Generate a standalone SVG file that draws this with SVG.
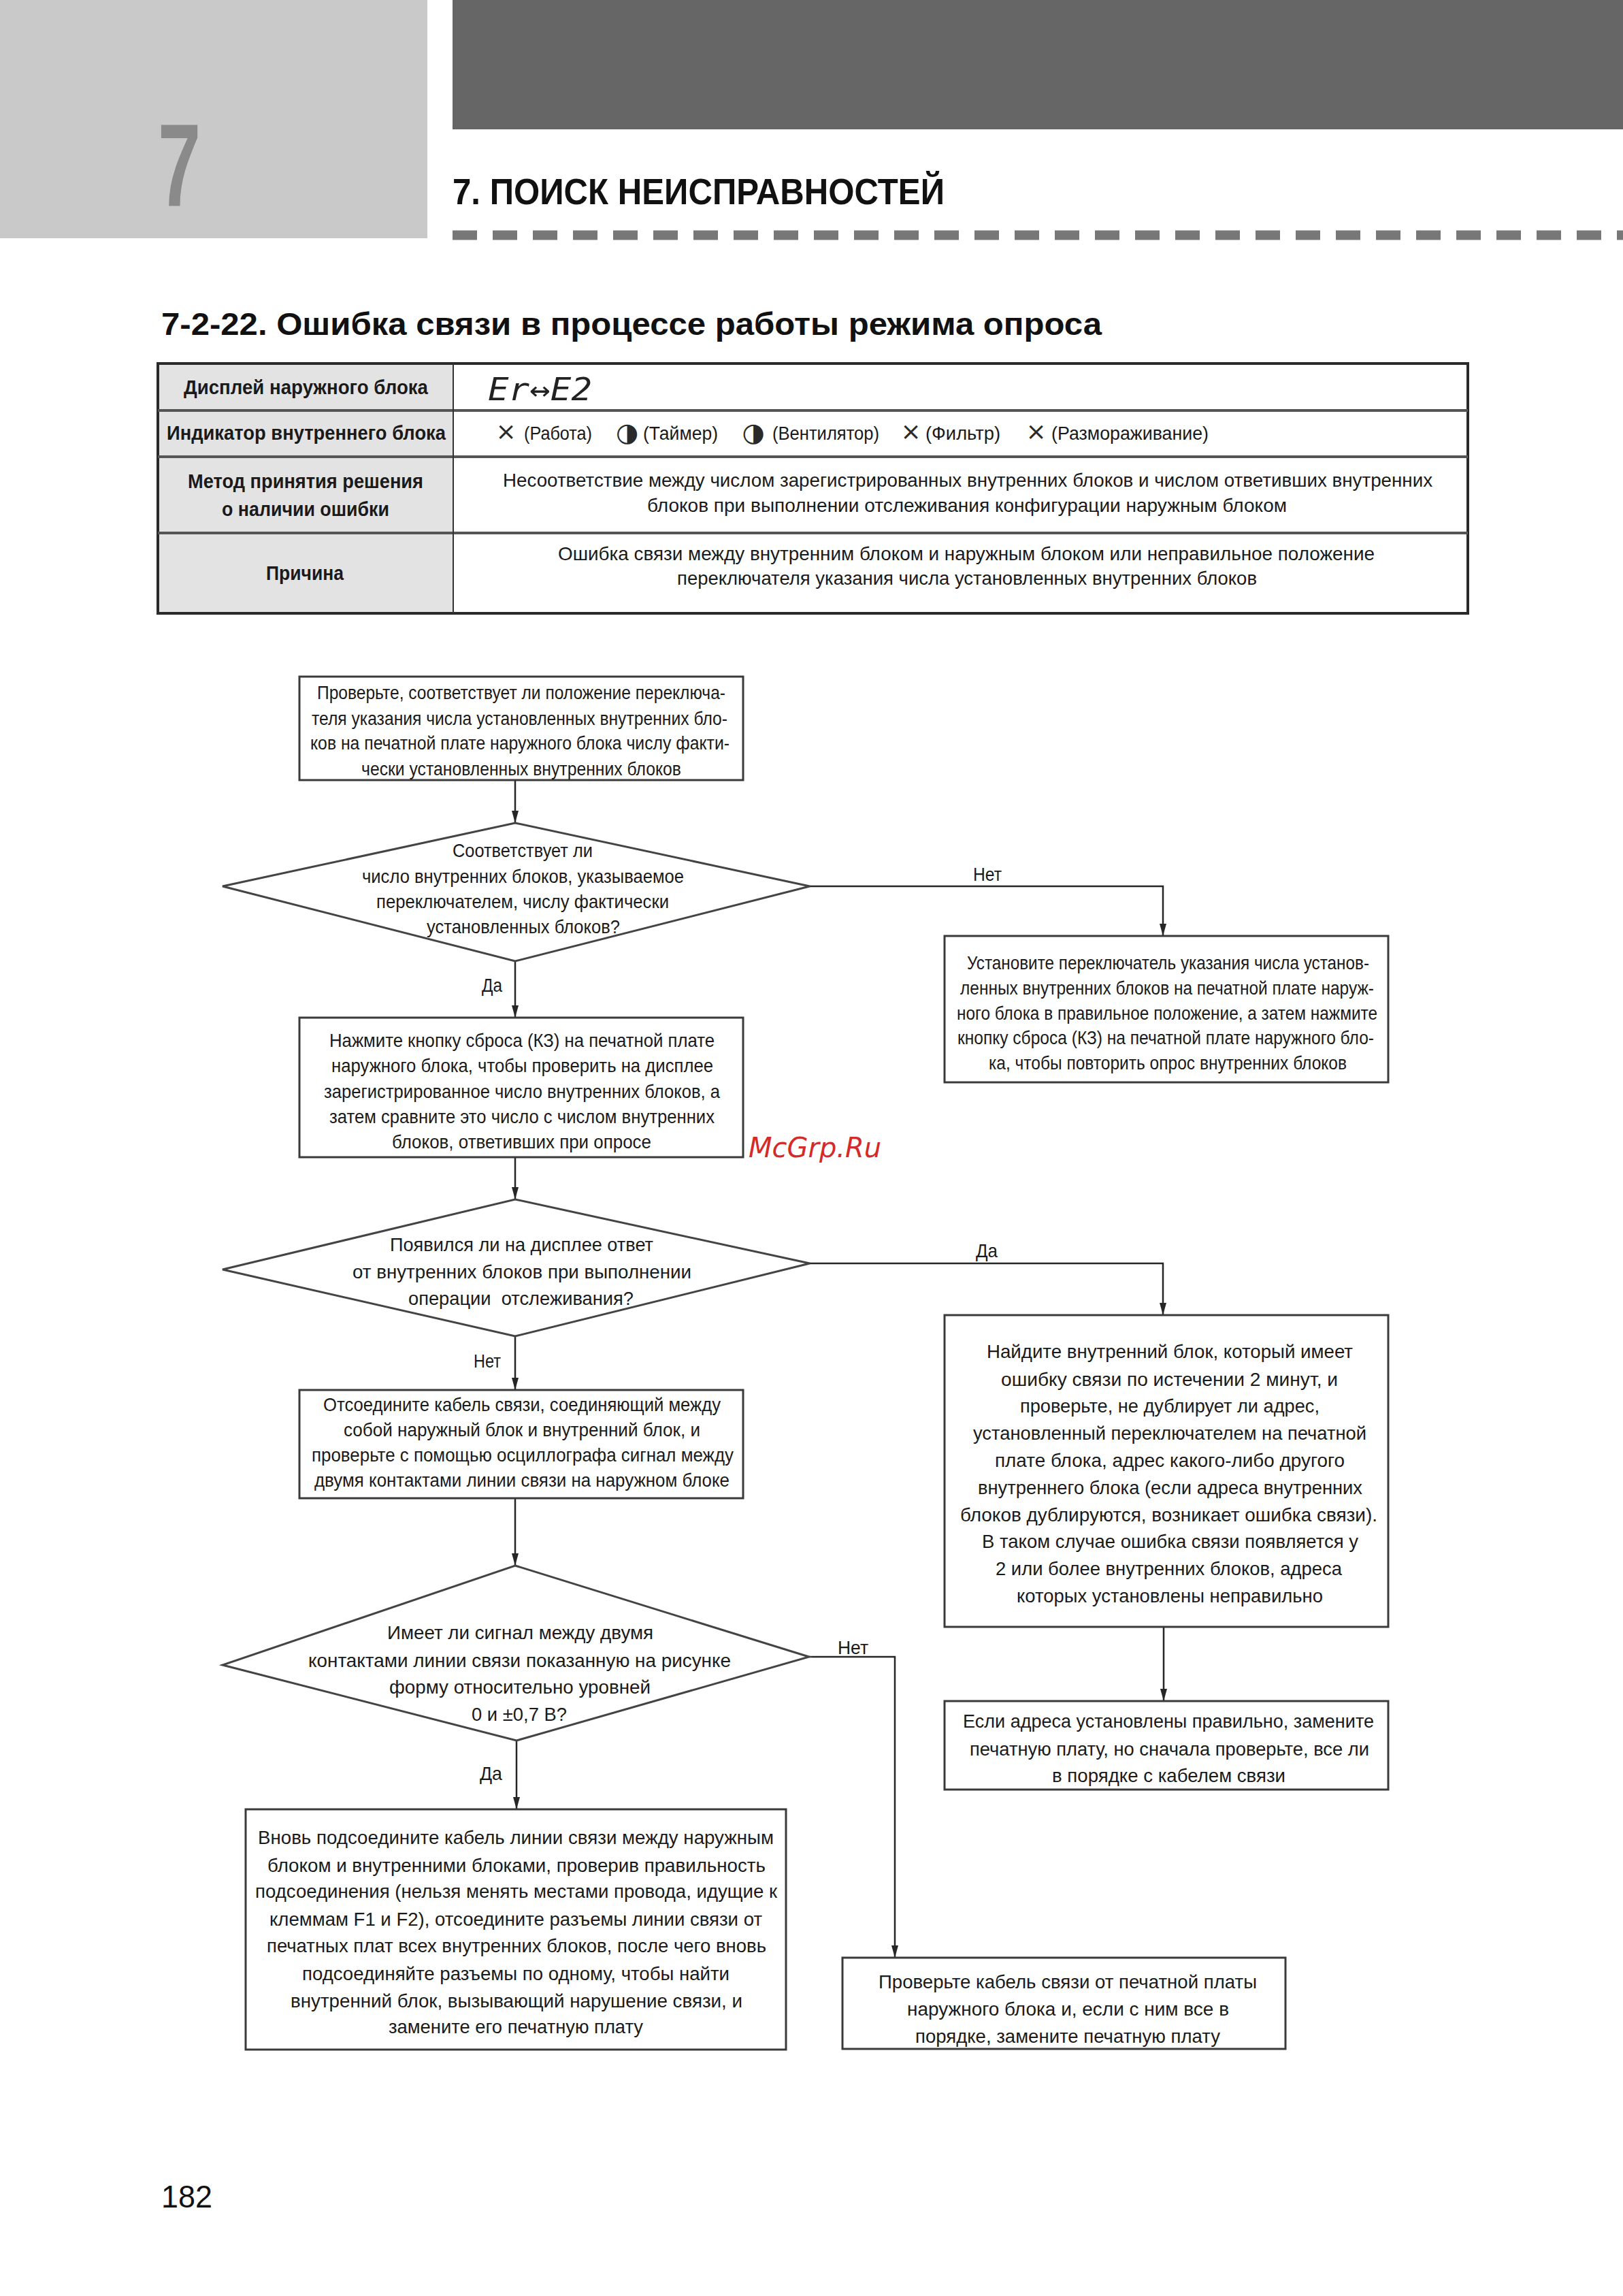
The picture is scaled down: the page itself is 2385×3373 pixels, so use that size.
<svg xmlns="http://www.w3.org/2000/svg" width="2385" height="3373" viewBox="0 0 2385 3373">
<style>
.t{font-family:"Liberation Sans",Arial,sans-serif;font-size:28px;fill:#1a1a1a;text-anchor:middle}
.s{text-anchor:start}
.b{font-weight:bold;font-size:29px}
.box{fill:#fff;stroke:#3a3a3a;stroke-width:3}
.dia{fill:#fff;stroke:#444;stroke-width:3}
.ln{fill:none;stroke:#262626;stroke-width:2.5}
.sym{font-family:"DejaVu Sans",sans-serif;fill:#2a2a2a;text-anchor:middle}
</style>
<defs>
<marker id="ah" markerUnits="userSpaceOnUse" markerWidth="18" markerHeight="10" refX="18" refY="5" orient="auto">
<path d="M0,0 L18,5 L0,10 z" fill="#262626"/>
</marker>
</defs>
<rect width="2385" height="3373" fill="#fff"/>
<g id="header">
<rect x="0" y="0" width="628" height="350" fill="#c9c9c9"/>
<rect x="665" y="0" width="1720" height="190" fill="#666"/>
<text transform="translate(232,302) scale(0.66,1)" x="0" y="0" style="font-family:'Liberation Sans',Arial,sans-serif;font-weight:bold;font-size:172px;fill:#8a8a8a">7</text>
<text class="t s b" x="665" y="300" style="font-size:54px;fill:#111" textLength="723" lengthAdjust="spacingAndGlyphs">7. ПОИСК НЕИСПРАВНОСТЕЙ</text>
<line x1="665" y1="345.5" x2="2385" y2="345.5" stroke="#777" stroke-width="14" stroke-dasharray="36 23"/>
<text class="t s b" x="237" y="492" style="font-size:46px;fill:#111" textLength="1382" lengthAdjust="spacingAndGlyphs">7-2-22. Ошибка связи в процессе работы режима опроса</text>
</g>
<g id="table">
<rect x="232" y="534" width="434" height="367" fill="#e3e3e3"/>
<rect x="232" y="534" width="1925" height="367" fill="none" stroke="#2a2a2a" stroke-width="4"/>
<line x1="232" y1="603" x2="2157" y2="603" stroke="#555" stroke-width="4"/>
<line x1="232" y1="671" x2="2157" y2="671" stroke="#555" stroke-width="4"/>
<line x1="232" y1="783" x2="2157" y2="783" stroke="#555" stroke-width="4"/>
<line x1="666" y1="534" x2="666" y2="901" stroke="#333" stroke-width="2"/>
<text class="t b" x="449.5" y="579" textLength="359" lengthAdjust="spacingAndGlyphs">Дисплей наружного блока</text>
<text class="s" x="717" y="588" style="font-family:'DejaVu Sans Mono',monospace;font-style:italic;font-size:46px;fill:#222" textLength="153" lengthAdjust="spacingAndGlyphs">Er↔E2</text>
<text class="t b" x="450" y="646" textLength="410" lengthAdjust="spacingAndGlyphs">Индикатор внутреннего блока</text>
<text class="sym" x="743.5" y="646" style="font-size:36px">×</text>
<text class="t s" x="770" y="646" textLength="100" lengthAdjust="spacingAndGlyphs">(Работа)</text>
<text class="sym" x="921.5" y="648" style="font-size:38px">◑</text>
<text class="t s" x="945" y="646" textLength="110" lengthAdjust="spacingAndGlyphs">(Таймер)</text>
<text class="sym" x="1107" y="648" style="font-size:38px">◑</text>
<text class="t s" x="1135" y="646" textLength="157" lengthAdjust="spacingAndGlyphs">(Вентилятор)</text>
<text class="sym" x="1338.5" y="646" style="font-size:36px">×</text>
<text class="t s" x="1360" y="646" textLength="110" lengthAdjust="spacingAndGlyphs">(Фильтр)</text>
<text class="sym" x="1522.5" y="646" style="font-size:36px">×</text>
<text class="t s" x="1545" y="646" textLength="231" lengthAdjust="spacingAndGlyphs">(Размораживание)</text>
<text class="t b" x="449" y="717" textLength="346" lengthAdjust="spacingAndGlyphs">Метод принятия решения</text>
<text class="t b" x="449" y="758" textLength="246" lengthAdjust="spacingAndGlyphs">о наличии ошибки</text>
<text class="t" x="1422" y="715" textLength="1366" lengthAdjust="spacingAndGlyphs">Несоответствие между числом зарегистрированных внутренних блоков и числом ответивших внутренних</text>
<text class="t" x="1421" y="752" textLength="940" lengthAdjust="spacingAndGlyphs">блоков при выполнении отслеживания конфигурации наружным блоком</text>
<text class="t b" x="448" y="852" textLength="114" lengthAdjust="spacingAndGlyphs">Причина</text>
<text class="t" x="1420" y="823" textLength="1200" lengthAdjust="spacingAndGlyphs">Ошибка связи между внутренним блоком и наружным блоком или неправильное положение</text>
<text class="t" x="1421" y="859" textLength="852" lengthAdjust="spacingAndGlyphs">переключателя указания числа установленных внутренних блоков</text>
</g>
<g id="connectors">
<line class="ln" x1="757" y1="1146" x2="757" y2="1209" marker-end="url(#ah)"/>
<polyline class="ln" points="1190,1302 1709,1302 1709,1375" marker-end="url(#ah)"/>
<line class="ln" x1="757" y1="1412" x2="757" y2="1495" marker-end="url(#ah)"/>
<line class="ln" x1="757" y1="1700" x2="757" y2="1762" marker-end="url(#ah)"/>
<polyline class="ln" points="1190,1856 1709,1856 1709,1932" marker-end="url(#ah)"/>
<line class="ln" x1="757" y1="1963" x2="757" y2="2042" marker-end="url(#ah)"/>
<line class="ln" x1="757" y1="2201" x2="757" y2="2300" marker-end="url(#ah)"/>
<polyline class="ln" points="1189,2434 1315,2434 1315,2876" marker-end="url(#ah)"/>
<line class="ln" x1="759" y1="2557" x2="759" y2="2658" marker-end="url(#ah)"/>
<line class="ln" x1="1710" y1="2390" x2="1710" y2="2499" marker-end="url(#ah)"/>
<text class="t s" x="1430" y="1294" textLength="42" lengthAdjust="spacingAndGlyphs">Нет</text>
<text class="t s" x="708" y="1457" textLength="30" lengthAdjust="spacingAndGlyphs">Да</text>
<text class="t s" x="1434" y="1847" textLength="32" lengthAdjust="spacingAndGlyphs">Да</text>
<text class="t s" x="696" y="2009" textLength="40" lengthAdjust="spacingAndGlyphs">Нет</text>
<text class="t s" x="1231" y="2430" textLength="45" lengthAdjust="spacingAndGlyphs">Нет</text>
<text class="t s" x="705" y="2615" textLength="33" lengthAdjust="spacingAndGlyphs">Да</text>
</g>
<g id="n_check_switch">
<rect class="box" x="440" y="994" width="652" height="152"/>
<text class="t" x="766" y="1027" textLength="600" lengthAdjust="spacingAndGlyphs">Проверьте, соответствует ли положение переключа-</text>
<text class="t" x="763.5" y="1065" textLength="611" lengthAdjust="spacingAndGlyphs">теля указания числа установленных внутренних бло-</text>
<text class="t" x="764" y="1101" textLength="616" lengthAdjust="spacingAndGlyphs">ков на печатной плате наружного блока числу факти-</text>
<text class="t" x="766" y="1139" textLength="470" lengthAdjust="spacingAndGlyphs">чески установленных внутренних блоков</text>
</g>
<g id="d_match">
<polygon class="dia" points="757,1209 1190,1302 757,1412 327,1302"/>
<text class="t" x="768" y="1259" textLength="206" lengthAdjust="spacingAndGlyphs">Соответствует ли</text>
<text class="t" x="768.5" y="1297" textLength="473" lengthAdjust="spacingAndGlyphs">число внутренних блоков, указываемое</text>
<text class="t" x="768" y="1334" textLength="430" lengthAdjust="spacingAndGlyphs">переключателем, числу фактически</text>
<text class="t" x="769" y="1371" textLength="284" lengthAdjust="spacingAndGlyphs">установленных блоков?</text>
</g>
<g id="n_set_switch">
<rect class="box" x="1388" y="1375" width="652" height="215"/>
<text class="t" x="1716.5" y="1424" textLength="591" lengthAdjust="spacingAndGlyphs">Установите переключатель указания числа установ-</text>
<text class="t" x="1715" y="1461" textLength="608" lengthAdjust="spacingAndGlyphs">ленных внутренних блоков на печатной плате наруж-</text>
<text class="t" x="1715" y="1498" textLength="618" lengthAdjust="spacingAndGlyphs">ного блока в правильное положение, а затем нажмите</text>
<text class="t" x="1713" y="1534" textLength="612" lengthAdjust="spacingAndGlyphs">кнопку сброса (КЗ) на печатной плате наружного бло-</text>
<text class="t" x="1716" y="1571" textLength="526" lengthAdjust="spacingAndGlyphs">ка, чтобы повторить опрос внутренних блоков</text>
</g>
<g id="n_reset">
<rect class="box" x="440" y="1495" width="652" height="205"/>
<text class="t" x="767" y="1538" textLength="566" lengthAdjust="spacingAndGlyphs">Нажмите кнопку сброса (КЗ) на печатной плате</text>
<text class="t" x="767.5" y="1575" textLength="561" lengthAdjust="spacingAndGlyphs">наружного блока, чтобы проверить на дисплее</text>
<text class="t" x="767" y="1613" textLength="582" lengthAdjust="spacingAndGlyphs">зарегистрированное число внутренних блоков, а</text>
<text class="t" x="767" y="1650" textLength="566" lengthAdjust="spacingAndGlyphs">затем сравните это число с числом внутренних</text>
<text class="t" x="766.5" y="1687" textLength="381" lengthAdjust="spacingAndGlyphs">блоков, ответивших при опросе</text>
</g>
<g id="watermark">
<text x="1100" y="1700" style="font-family:'DejaVu Sans',sans-serif;font-style:oblique;font-size:40px;fill:#d42a2a">McGrp.Ru</text>
</g>
<g id="d_response">
<polygon class="dia" points="757,1762 1190,1856 757,1963 327,1865"/>
<text class="t" x="766.5" y="1838" textLength="387" lengthAdjust="spacingAndGlyphs">Появился ли на дисплее ответ</text>
<text class="t" x="767" y="1878" textLength="498" lengthAdjust="spacingAndGlyphs">от внутренних блоков при выполнении</text>
<text class="t" x="765.5" y="1917" textLength="331" lengthAdjust="spacingAndGlyphs" xml:space="preserve">операции  отслеживания?</text>
</g>
<g id="n_find_unit">
<rect class="box" x="1388" y="1932" width="652" height="458"/>
<text class="t" x="1719" y="1995" textLength="538" lengthAdjust="spacingAndGlyphs">Найдите внутренний блок, который имеет</text>
<text class="t" x="1718.5" y="2036" textLength="495" lengthAdjust="spacingAndGlyphs">ошибку связи по истечении 2 минут, и</text>
<text class="t" x="1719" y="2075" textLength="440" lengthAdjust="spacingAndGlyphs">проверьте, не дублирует ли адрес,</text>
<text class="t" x="1719" y="2115" textLength="578" lengthAdjust="spacingAndGlyphs">установленный переключателем на печатной</text>
<text class="t" x="1719" y="2155" textLength="514" lengthAdjust="spacingAndGlyphs">плате блока, адрес какого-либо другого</text>
<text class="t" x="1719.5" y="2195" textLength="565" lengthAdjust="spacingAndGlyphs">внутреннего блока (если адреса внутренних</text>
<text class="t" x="1717.5" y="2235" textLength="613" lengthAdjust="spacingAndGlyphs">блоков дублируются, возникает ошибка связи).</text>
<text class="t" x="1719.5" y="2274" textLength="553" lengthAdjust="spacingAndGlyphs">В таком случае ошибка связи появляется у</text>
<text class="t" x="1717.5" y="2314" textLength="509" lengthAdjust="spacingAndGlyphs">2 или более внутренних блоков, адреса</text>
<text class="t" x="1719" y="2354" textLength="450" lengthAdjust="spacingAndGlyphs">которых установлены неправильно</text>
</g>
<g id="n_replace_pcb1">
<rect class="box" x="1388" y="2499" width="652" height="130"/>
<text class="t" x="1717" y="2538" textLength="604" lengthAdjust="spacingAndGlyphs">Если адреса установлены правильно, замените</text>
<text class="t" x="1718.5" y="2579" textLength="587" lengthAdjust="spacingAndGlyphs">печатную плату, но сначала проверьте, все ли</text>
<text class="t" x="1717.5" y="2618" textLength="343" lengthAdjust="spacingAndGlyphs">в порядке с кабелем связи</text>
</g>
<g id="n_disconnect">
<rect class="box" x="440" y="2042" width="652" height="159"/>
<text class="t" x="767" y="2073" textLength="584" lengthAdjust="spacingAndGlyphs">Отсоедините кабель связи, соединяющий между</text>
<text class="t" x="767" y="2110" textLength="524" lengthAdjust="spacingAndGlyphs">собой наружный блок и внутренний блок, и</text>
<text class="t" x="768" y="2147" textLength="620" lengthAdjust="spacingAndGlyphs">проверьте с помощью осциллографа сигнал между</text>
<text class="t" x="767" y="2184" textLength="610" lengthAdjust="spacingAndGlyphs">двумя контактами линии связи на наружном блоке</text>
</g>
<g id="d_signal">
<polygon class="dia" points="757,2300 1189,2434 759,2557 327,2446"/>
<text class="t" x="764.5" y="2408" textLength="391" lengthAdjust="spacingAndGlyphs">Имеет ли сигнал между двумя</text>
<text class="t" x="763.5" y="2449" textLength="621" lengthAdjust="spacingAndGlyphs">контактами линии связи показанную на рисунке</text>
<text class="t" x="764" y="2488" textLength="384" lengthAdjust="spacingAndGlyphs">форму относительно уровней</text>
<text class="t" x="763" y="2528" textLength="140" lengthAdjust="spacingAndGlyphs">0 и ±0,7 В?</text>
</g>
<g id="n_reconnect">
<rect class="box" x="361" y="2658" width="794" height="353"/>
<text class="t" x="758" y="2709" textLength="758" lengthAdjust="spacingAndGlyphs">Вновь подсоедините кабель линии связи между наружным</text>
<text class="t" x="759" y="2750" textLength="732" lengthAdjust="spacingAndGlyphs">блоком и внутренними блоками, проверив правильность</text>
<text class="t" x="758.5" y="2788" textLength="767" lengthAdjust="spacingAndGlyphs">подсоединения (нельзя менять местами провода, идущие к</text>
<text class="t" x="758" y="2829" textLength="724" lengthAdjust="spacingAndGlyphs">клеммам F1 и F2), отсоедините разъемы линии связи от</text>
<text class="t" x="759" y="2868" textLength="734" lengthAdjust="spacingAndGlyphs">печатных плат всех внутренних блоков, после чего вновь</text>
<text class="t" x="758" y="2909" textLength="628" lengthAdjust="spacingAndGlyphs">подсоединяйте разъемы по одному, чтобы найти</text>
<text class="t" x="759" y="2949" textLength="664" lengthAdjust="spacingAndGlyphs">внутренний блок, вызывающий нарушение связи, и</text>
<text class="t" x="758" y="2987" textLength="374" lengthAdjust="spacingAndGlyphs">замените его печатную плату</text>
</g>
<g id="n_check_cable">
<rect class="box" x="1238" y="2876" width="651" height="134"/>
<text class="t" x="1569" y="2921" textLength="556" lengthAdjust="spacingAndGlyphs">Проверьте кабель связи от печатной платы</text>
<text class="t" x="1569.5" y="2961" textLength="473" lengthAdjust="spacingAndGlyphs">наружного блока и, если с ним все в</text>
<text class="t" x="1569" y="3001" textLength="448" lengthAdjust="spacingAndGlyphs">порядке, замените печатную плату</text>
</g>
<g id="footer">
<text class="t s" x="237" y="3243" style="font-size:47px;fill:#111" textLength="75" lengthAdjust="spacingAndGlyphs">182</text>
</g>
</svg>
